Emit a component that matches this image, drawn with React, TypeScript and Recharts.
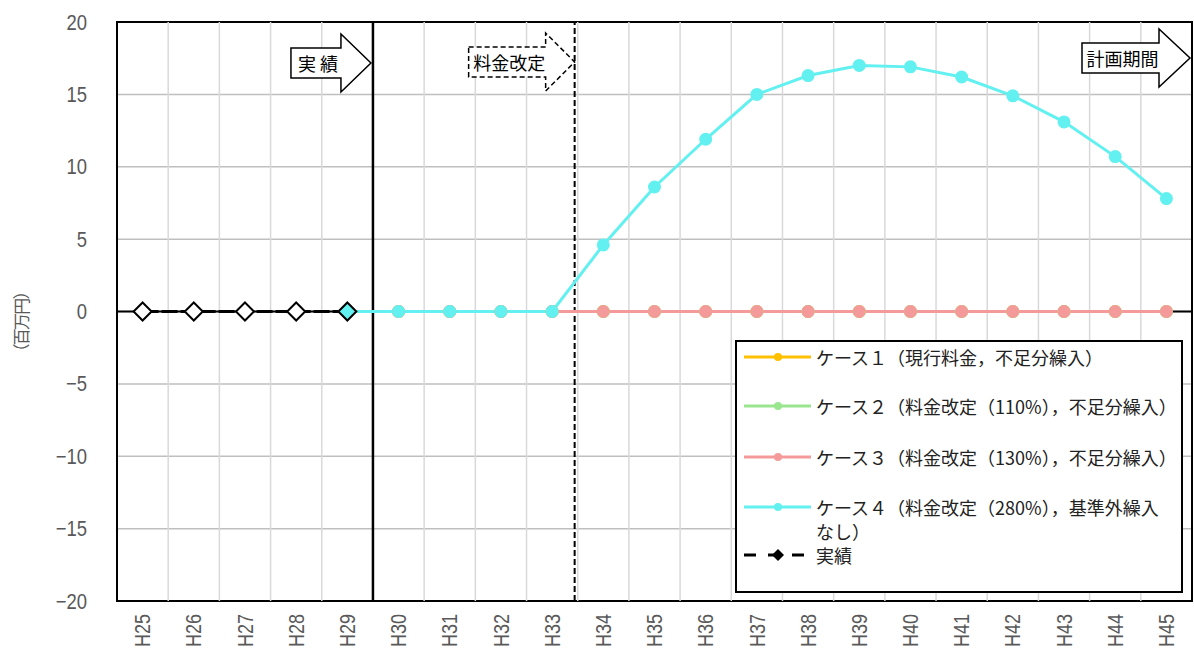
import React from "react";
import {
  ComposedChart,
  Line,
  XAxis,
  YAxis,
  CartesianGrid,
  ReferenceLine,
  ReferenceArea,
  Legend,
} from "recharts";

const categories = [
  "H25", "H26", "H27", "H28", "H29", "H30", "H31", "H32", "H33", "H34", "H35",
  "H36", "H37", "H38", "H39", "H40", "H41", "H42", "H43", "H44", "H45",
];
const actual = [0, 0, 0, 0, 0, null, null, null, null, null, null, null, null, null, null, null, null, null, null, null, null];
const case1 = [null, null, null, null, null, 0, 0, 0, 0, 0, 0, 0, 0, 0, 0, 0, 0, 0, 0, 0, 0];
const case2 = [null, null, null, null, null, 0, 0, 0, 0, 0, 0, 0, 0, 0, 0, 0, 0, 0, 0, 0, 0];
const case3 = [null, null, null, null, null, 0, 0, 0, 0, 0, 0, 0, 0, 0, 0, 0, 0, 0, 0, 0, 0];
const case4 = [null, null, null, null, 0, 0, 0, 0, 0, 4.6, 8.6, 11.9, 15.0, 16.3, 17.0, 16.9, 16.2, 14.9, 13.1, 10.7, 7.8];
const yTicks = [-20, -15, -10, -5, 0, 5, 10, 15, 20];

const seriesNames = [
  "ケース１（現行料金，不足分繰入）",
  "ケース２（料金改定（110%），不足分繰入）",
  "ケース３（料金改定（130%），不足分繰入）",
  "ケース４（料金改定（280%），基準外繰入なし）",
  "実績",
];
const colors = ["#FFC000", "#99E68F", "#F59A9A", "#62F0F0", "#000000"];

const data = categories.map((label, i) => ({
  x: i,
  label,
  actual: actual[i],
  c1: case1[i],
  c2: case2[i],
  c3: case3[i],
  c4: case4[i],
}));

const boundaries = categories.slice(1).map((_, i) => i + 0.5);

const jpFont = "'Noto Sans CJK JP', sans-serif";
const numFont = "'Liberation Sans', sans-serif";

const Arrow = ({ tipX, cy, bodyW, headLen, text, dashed, textSize = 18 }: any) => {
  const hh = 29;
  const bh = 15;
  const bx = tipX - headLen - bodyW;
  const hx = tipX - headLen;
  const d = `M${bx},${cy - bh} L${hx},${cy - bh} L${hx},${cy - hh} L${tipX},${cy} L${hx},${cy + hh} L${hx},${cy + bh} L${bx},${cy + bh} Z`;
  return (
    <g>
      <path d={d} fill="#fff" stroke="#000" strokeWidth={1.5} strokeDasharray={dashed ? "5 3" : undefined} />
      <text x={bx + bodyW / 2 + 2} y={cy} textAnchor="middle" dominantBaseline="central" fontFamily={jpFont} fontSize={textSize} fill="#000">
        {text}
      </text>
    </g>
  );
};

// narrow numerals: squeeze the regular face horizontally
const XTick = ({ x, y, payload }: any) => (
  <g transform={`translate(${x}, ${y}) rotate(-90) scale(0.82, 1)`}>
    <text x={0} y={0} textAnchor="end" dominantBaseline="central" fontFamily={numFont} fontSize={22} fill="#595959">
      {categories[payload.value]}
    </text>
  </g>
);

const YTick = ({ x, y, payload }: any) => (
  <g transform={`translate(${x}, ${y}) scale(0.84, 1)`}>
    <text x={0} y={0} textAnchor="end" dominantBaseline="central" fontFamily={numFont} fontSize={22} fill="#595959">
      {payload.value < 0 ? `−${Math.abs(payload.value)}` : payload.value}
    </text>
  </g>
);

const ActualDot = ({ cx, cy, index }: any) => {
  if (cx == null || cy == null) return null;
  const s = 9;
  return (
    <path
      d={`M${cx},${cy - s} L${cx + s},${cy} L${cx},${cy + s} L${cx - s},${cy} Z`}
      fill={index === 4 ? colors[3] : "#fff"}
      stroke="#000"
      strokeWidth={2}
    />
  );
};

const LegendBox = () => {
  const rows = [15, 64, 115, 165, 213];
  return (
    <div
      style={{
        position: "relative",
        width: 444,
        height: 249,
        border: "2px solid #000",
        background: "#fff",
        fontFamily: jpFont,
        fontSize: 18,
        color: "#222",
      }}
    >
      {seriesNames.map((name, i) => (
        <div key={name} style={{ position: "absolute", left: 7, top: rows[i] - 12, display: "flex", alignItems: "flex-start" }}>
          <svg width={68} height={24} style={{ flexShrink: 0 }}>
            {i < 4 ? (
              <g>
                <line x1={0} y1={12} x2={67} y2={12} stroke={colors[i]} strokeWidth={3} />
                <circle cx={34} cy={12} r={4} fill={colors[i]} />
              </g>
            ) : (
              <g>
                <line x1={0} y1={12} x2={67} y2={12} stroke="#000" strokeWidth={3} strokeDasharray="12 12" />
                <path d="M34,6 L40,12 L34,18 L28,12 Z" fill="#000" />
              </g>
            )}
          </svg>
          <div style={{ marginLeft: 4, lineHeight: "24px", width: 360 }}>
            {i === 3 ? (
              <>
                ケース４（料金改定（280%），基準外繰入
                <br />
                なし）
              </>
            ) : (
              name
            )}
          </div>
        </div>
      ))}
    </div>
  );
};

export default function App() {
  return (
    <div style={{ position: "absolute", left: 0, top: 0, background: "#fff" }}>
      <ComposedChart width={1194} height={651} data={data} margin={{ top: 22, right: 2, bottom: 0, left: 0 }}>
        <CartesianGrid vertical={false} stroke="#bfbfbf" strokeWidth={1.5} />
        {boundaries.map((b) => (
          <ReferenceLine key={b} x={b} stroke="#d9d9d9" strokeWidth={1.5} />
        ))}
        <XAxis
          type="number"
          dataKey="x"
          domain={[-0.5, 20.5]}
          ticks={categories.map((_, i) => i)}
          tick={<XTick />}
          tickLine={false}
          axisLine={false}
          tickSize={0}
          tickMargin={13}
          height={50}
          interval={0}
          allowDataOverflow
        />
        <YAxis
          domain={[-20, 20]}
          ticks={yTicks}
          tickLine={false}
          axisLine={false}
          tickSize={0}
          tickMargin={30}
          width={117}
          tick={<YTick />}
          label={{
            content: ({ viewBox }: any) => (
              <text
                x={viewBox.x + 20}
                y={viewBox.y + viewBox.height / 2 + 10}
                transform={`rotate(-90, ${viewBox.x + 20}, ${viewBox.y + viewBox.height / 2 + 10})`}
                textAnchor="middle"
                dominantBaseline="central"
                fontFamily={jpFont}
                fontSize={17}
                textLength={78}
                lengthAdjust="spacing"
                fill="#595959"
              >
                （百万円）
              </text>
            ),
          }}
        />
        <ReferenceLine y={0} stroke="#000" strokeWidth={2} />
        <ReferenceLine
          x={4.5}
          stroke="#000"
          strokeWidth={2.5}
          label={{
            content: ({ viewBox }: any) => (
              <Arrow tipX={viewBox.x - 2} cy={viewBox.y + 41} bodyW={50} headLen={30} text="実 績" />
            ),
          }}
        />
        <ReferenceLine
          x={8.44}
          stroke="#000"
          strokeWidth={2}
          strokeDasharray="6 3"
          label={{
            content: ({ viewBox }: any) => (
              <Arrow tipX={viewBox.x} cy={viewBox.y + 40} bodyW={77} headLen={29} text="料金改定" dashed />
            ),
          }}
        />
        <ReferenceLine
          x={20.5}
          stroke="none"
          label={{
            content: ({ viewBox }: any) => (
              <Arrow tipX={viewBox.x - 2} cy={viewBox.y + 36} bodyW={77} headLen={31} text="計画期間" />
            ),
          }}
        />
        <Line dataKey="c1" name={seriesNames[0]} stroke={colors[0]} strokeWidth={3} dot={{ r: 5, fill: colors[0], stroke: colors[0] }} isAnimationActive={false} />
        <Line dataKey="c2" name={seriesNames[1]} stroke={colors[1]} strokeWidth={3} dot={{ r: 5, fill: colors[1], stroke: colors[1] }} isAnimationActive={false} />
        <Line dataKey="c3" name={seriesNames[2]} stroke={colors[2]} strokeWidth={3} dot={{ r: 5, fill: colors[2], stroke: colors[2] }} isAnimationActive={false} />
        <Line dataKey="c4" name={seriesNames[3]} stroke={colors[3]} strokeWidth={3} dot={{ r: 5, fill: colors[3], stroke: colors[3] }} isAnimationActive={false} />
        <Line dataKey="actual" name={seriesNames[4]} stroke="#000" strokeWidth={3} strokeDasharray="16 3" dot={<ActualDot />} isAnimationActive={false} />
        <ReferenceArea x1={-0.5} x2={20.5} y1={-20} y2={20} fill="none" stroke="#000" strokeWidth={2} ifOverflow="visible" />
        <Legend
          layout="vertical"
          align="center"
          verticalAlign="middle"
          content={<LegendBox />}
          wrapperStyle={{ position: "absolute", left: 735, top: 340, width: 448, height: 253, bottom: "auto", right: "auto", margin: 0 }}
        />
      </ComposedChart>
    </div>
  );
}
